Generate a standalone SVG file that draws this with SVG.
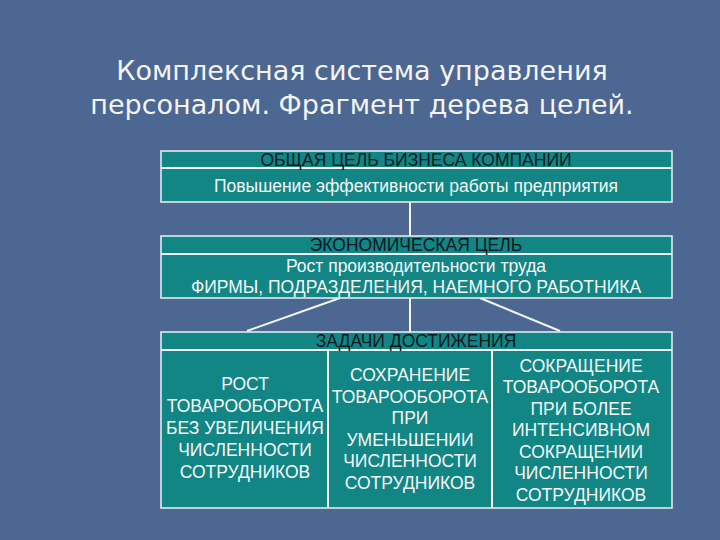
<svg xmlns="http://www.w3.org/2000/svg" width="720" height="540" viewBox="0 0 720 540">
<style>
.box{fill:#128585;stroke:#e8f4f4;stroke-width:1.5}
.ln{stroke:#f2f6f8;stroke-width:2;fill:none}
.h{font-family:"Liberation Sans",Arial,sans-serif;font-size:17.5px;fill:#0a1a22;text-anchor:middle}
.w{font-family:"Liberation Sans",Arial,sans-serif;font-size:17.5px;fill:#f4f8f8;text-anchor:middle}
.c{font-family:"Liberation Sans",Arial,sans-serif;font-size:17.5px;fill:#f4f8f8;text-anchor:middle}
.t{font-family:"DejaVu Sans","Noto Sans",sans-serif;font-size:27px;fill:#f4f4f4;text-anchor:middle}
</style>
<rect width="720" height="540" fill="#4c6791"/>
<text class="t" x="362" y="80">Комплексная система управления</text>
<text class="t" x="362" y="114">персоналом. Фрагмент дерева целей.</text>
<g id="connectors">
<line class="ln" x1="410" y1="202" x2="410" y2="236"/>
<line class="ln" x1="410" y1="298" x2="410" y2="332"/>
<line class="ln" x1="340" y1="298" x2="247" y2="331"/>
<line class="ln" x1="480" y1="298" x2="560" y2="331"/>
</g>
<g id="goal">
<rect class="box" x="161" y="151" width="511" height="51"/>
<line class="ln" x1="161" y1="168" x2="672" y2="168" stroke-width="1.5"/>
<text class="h" x="416" y="166">ОБЩАЯ ЦЕЛЬ БИЗНЕСА КОМПАНИИ</text>
<text class="w" x="416" y="192">Повышение эффективности работы предприятия</text>
</g>
<g id="econ">
<rect class="box" x="161" y="236" width="511" height="62"/>
<line class="ln" x1="161" y1="254" x2="672" y2="254" stroke-width="1.5"/>
<text class="h" x="416" y="251">ЭКОНОМИЧЕСКАЯ ЦЕЛЬ</text>
<text class="w" x="416" y="272">Рост производительности труда</text>
<text class="w" x="416" y="293">ФИРМЫ, ПОДРАЗДЕЛЕНИЯ, НАЕМНОГО РАБОТНИКА</text>
</g>
<g id="tasks">
<rect class="box" x="161" y="332" width="511" height="176"/>
<line class="ln" x1="161" y1="350" x2="672" y2="350" stroke-width="1.5"/>
<line class="ln" x1="328" y1="350" x2="328" y2="508" stroke-width="1.5"/>
<line class="ln" x1="492" y1="350" x2="492" y2="508" stroke-width="1.5"/>
<text class="h" x="416" y="347">ЗАДАЧИ ДОСТИЖЕНИЯ</text>
<g class="c">
<text x="245" y="390">РОСТ</text>
<text x="245" y="412">ТОВАРООБОРОТА</text>
<text x="245" y="434">БЕЗ УВЕЛИЧЕНИЯ</text>
<text x="245" y="456">ЧИСЛЕННОСТИ</text>
<text x="245" y="478">СОТРУДНИКОВ</text>
<text x="410" y="381">СОХРАНЕНИЕ</text>
<text x="410" y="403">ТОВАРООБОРОТА</text>
<text x="410" y="424">ПРИ</text>
<text x="410" y="446">УМЕНЬШЕНИИ</text>
<text x="410" y="467">ЧИСЛЕННОСТИ</text>
<text x="410" y="489">СОТРУДНИКОВ</text>
<text x="581" y="372">СОКРАЩЕНИЕ</text>
<text x="581" y="393">ТОВАРООБОРОТА</text>
<text x="581" y="415">ПРИ БОЛЕЕ</text>
<text x="581" y="436">ИНТЕНСИВНОМ</text>
<text x="581" y="458">СОКРАЩЕНИИ</text>
<text x="581" y="479">ЧИСЛЕННОСТИ</text>
<text x="581" y="501">СОТРУДНИКОВ</text>
</g>
</g>
</svg>
